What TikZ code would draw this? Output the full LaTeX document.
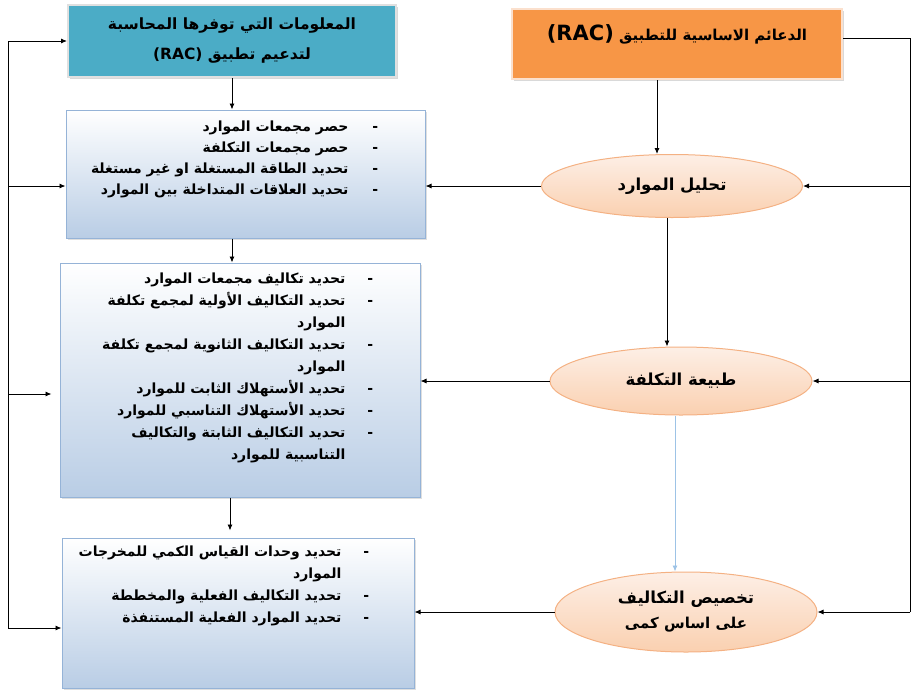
\documentclass[tikz,border=0pt]{standalone}
\usepackage{fontspec}
\usepackage{xcolor}
\usepackage{tikz}
\usetikzlibrary{shapes.geometric,arrows.meta,shadows}
\TeXXeTstate=1
\newfontfamily\arabicfont[Script=Arabic]{DejaVu Sans}
\newcommand{\artext}[1]{\beginR #1\endR}
\definecolor{tealbox}{HTML}{4BACC6}
\definecolor{orangebox}{HTML}{F79646}
\definecolor{boxline}{HTML}{95B3D7}
\definecolor{boxbottom}{HTML}{B9CDE5}
\definecolor{peachline}{HTML}{F4B183}
\definecolor{peachtop}{HTML}{FDEFE6}
\definecolor{peachbottom}{HTML}{FAD0B0}
\definecolor{bluearrow}{HTML}{9DC3E6}
\tikzstyle{headbox} = [rectangle, draw=black!12, line width=2pt,
    drop shadow={opacity=0.3,shadow xshift=2pt,shadow yshift=-2pt}]
\tikzstyle{infobox} = [rectangle, draw=boxline, line width=1pt, top color=white,
    bottom color=boxbottom, drop shadow={opacity=0.25,shadow xshift=2pt,shadow yshift=-2pt}]
\tikzstyle{stage} = [ellipse, draw=peachline, line width=1pt, top color=peachtop,
    bottom color=peachbottom, inner sep=0pt, font=\arabicfont\bfseries\fontsize{16.5}{25}\selectfont, align=center]
\tikzstyle{items} = [anchor=north east, inner sep=0pt, font=\arabicfont\bfseries\fontsize{14}{22}\selectfont]
\tikzstyle{link} = [line width=0.9pt, -{Latex[length=6pt,width=5pt]}]
\tikzstyle{wire} = [line width=0.9pt]

\begin{document}
\begin{tikzpicture}[x=1pt,y=-1pt]
  \useasboundingbox (0,0) rectangle (916,691);

  \node[headbox, fill=tealbox, minimum width=328pt, minimum height=72pt] (info) at (232,41) {};
  \node[font=\arabicfont\bfseries\fontsize{15.5}{30}\selectfont, align=center] (infotext) at (info.center)
    {\artext{المعلومات التي توفرها المحاسبة}\\\artext{لتدعيم تطبيق \beginL(RAC)\endL}};

  \node[headbox, draw=peachline!40, fill=orangebox, minimum width=330pt, minimum height=70pt] (pillars) at (677,44) {};
  \node[font=\arabicfont\bfseries\fontsize{15}{15}\selectfont] (pillarstext) at (677,34)
    {\artext{الدعائم الاساسية للتطبيق \beginL{\fontsize{21}{21}\selectfont(RAC)}\endL}};

  \node[infobox, minimum width=359pt, minimum height=128pt] (box1) at (245.5,174) {};
  \node[infobox, minimum width=360pt, minimum height=234pt] (box2) at (240,380) {};
  \node[infobox, minimum width=352pt, minimum height=150pt] (box3) at (238,613) {};

  \node[items, font=\arabicfont\bfseries\fontsize{14}{21}\selectfont] (box1text) at ([xshift=-47pt,yshift=-7pt]box1.north east) {%
    \begin{tabular}{@{}r@{\hspace{24pt}}c@{}}
      \artext{حصر مجمعات الموارد} & - \\
      \artext{حصر مجمعات التكلفة} & - \\
      \artext{تحديد الطاقة المستغلة او غير مستغلة} & - \\
      \artext{تحديد العلاقات المتداخلة بين الموارد} & - \\
    \end{tabular}};
  \node[items] (box2text) at ([xshift=-47pt,yshift=-5pt]box2.north east) {%
    \begin{tabular}{@{}r@{\hspace{22pt}}c@{}}
      \artext{تحديد تكاليف مجمعات الموارد} & - \\
      \artext{تحديد التكاليف الأولية لمجمع تكلفة} & - \\
      \artext{الموارد} & \\
      \artext{تحديد التكاليف الثانوية لمجمع تكلفة} & - \\
      \artext{الموارد} & \\
      \artext{تحديد الأستهلاك الثابت للموارد} & - \\
      \artext{تحديد الأستهلاك التناسبي للموارد} & - \\
      \artext{تحديد التكاليف الثابتة والتكاليف} & - \\
      \artext{التناسبية للموارد} & \\
    \end{tabular}};
  \node[items] (box3text) at ([xshift=-45pt,yshift=-3pt]box3.north east) {%
    \begin{tabular}{@{}r@{\hspace{22pt}}c@{}}
      \artext{تحديد وحدات القياس الكمي للمخرجات} & - \\
      \artext{الموارد} & \\
      \artext{تحديد التكاليف الفعلية والمخططة} & - \\
      \artext{تحديد الموارد الفعلية المستنفذة} & - \\
    \end{tabular}};

  \node[stage, minimum width=261pt, minimum height=63pt] (e1) at (672,186) {\artext{تحليل الموارد}};
  \node[stage, minimum width=262pt, minimum height=68pt] (e2) at (681,381) {\artext{طبيعة التكلفة}};
  \node[stage, minimum width=262pt, minimum height=80pt] (e3) at (686,612)
    {\artext{تخصيص التكاليف}\\{\fontsize{15}{20}\selectfont\artext{على اساس كمى}}};

  \draw[link] ([xshift=-20pt]pillars.south) -- ([xshift=-20pt]pillars.south |- e1.north);
  \draw[link] ([xshift=-5pt]e1.south) -- ([xshift=-5pt]e1.south |- e2.north);
  \draw[link, draw=bluearrow] ([xshift=-6pt]e2.south) -- ([xshift=-6pt]e2.south |- e3.north);

  \coordinate (rtop) at (910,38);
  \draw[wire] ([yshift=6pt]pillars.east) -- (rtop) -- (rtop |- e3.east);
  \draw[link] (rtop |- e1.east) -- (e1.east);
  \draw[link] (rtop |- e2.east) -- (e2.east);
  \draw[link] (rtop |- e3.east) -- (e3.east);

  \draw[link] (e1.west) -- (e1.west -| box1.east);
  \draw[link] (e2.west) -- (e2.west -| box2.east);
  \draw[link] (e3.west) -- (e3.west -| box3.east);

  \draw[link] (info.south) -- (info.south |- box1.north);
  \draw[link] (info.south |- box1.south) -- (info.south |- box2.north);
  \draw[link, shorten >=7pt] ([xshift=-10pt]box2.south) -- ([xshift=-10pt]box2.south |- box3.north);

  \coordinate (ltop) at (8,41);
  \coordinate (lmid) at (8,394);
  \coordinate (lbottom) at (8,628);
  \draw[wire] (ltop) -- (lbottom);
  \draw[link] (ltop) -- (info.west);
  \draw[link] (ltop |- e1.west) -- (e1.west -| box1.west);
  \draw[link, shorten >=8pt] (lmid) -- (lmid -| box2.west);
  \draw[link] (lbottom) -- (lbottom -| box3.west);
\end{tikzpicture}
\end{document}
